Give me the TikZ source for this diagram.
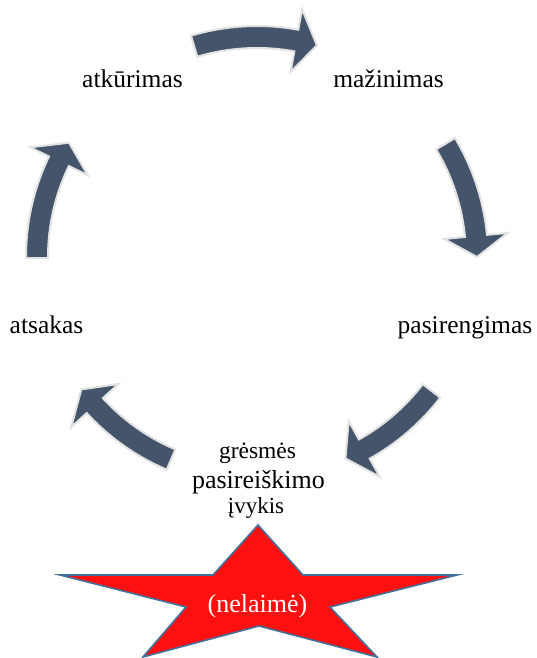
\documentclass[tikz,border=0pt]{standalone}
\usepackage{fontspec}
\setmainfont{Liberation Serif}
\definecolor{arrowfill}{HTML}{44546A}
\definecolor{arrowedge}{HTML}{E2E2E2}
\definecolor{starfill}{HTML}{FF1010}
\definecolor{staredge}{HTML}{41719C}
\newcommand{\cyclearrow}[2]{%
  \pgfmathsetmacro{\arHb}{#2+\arHl}%
  \path[cyclearrowshape] (#1:\arRo pt)
    arc[start angle=#1, end angle=\arHb, radius=\arRo pt]
    -- (\arHb:\arRh pt) -- (#2:\arRc pt) -- (\arHb:\arRl pt)
    -- (\arHb:\arRi pt)
    arc[start angle=\arHb, end angle=#1, radius=\arRi pt] -- cycle;}
\begin{document}
\begin{tikzpicture}[x=1pt,y=1pt,
  cyclearrowshape/.style={fill=arrowfill, draw=arrowedge, line width=2pt, line join=miter},
  lbl/.style={anchor=base, inner sep=0pt, font=\fontsize{25.5}{30}\selectfont},
  starshape/.style={fill=starfill, draw=staredge, line width=1.6pt, line join=miter}]
\useasboundingbox (0,0) rectangle (537,-658);
\def\arRc{220}\def\arRo{231}\def\arRi{209}\def\arRh{252}\def\arRl{188}\def\arHl{5.5}
\begin{scope}[shift={(257,-257)}]
  \cyclearrow{106.6}{74.2}
  \cyclearrow{31}{0}
  \cyclearrow{-37.5}{-66.3}
  \cyclearrow{-113}{-143}
  \cyclearrow{180.3}{148.7}
\end{scope}
% star
\path[starshape] (258,-525) -- (303,-575) -- (457,-575) -- (330,-607) -- (377,-657)
  -- (259,-626) -- (143,-657) -- (186,-607) -- (60,-575) -- (213,-575) -- cycle;
% labels
\node[lbl] (atkurimas) at (132.5,-88) {atkūrimas};
\node[lbl] (mazinimas) at (388.5,-88) {mažinimas};
\node[lbl] (atsakas) at (46.5,-333) {atsakas};
\node[lbl] (pasirengimas) at (465,-333) {pasirengimas};
\node[lbl, font=\fontsize{23.5}{28}\selectfont] (gresmes) at (257.5,-458) {grėsmės};
\node[lbl, font=\fontsize{26}{30}\selectfont] (pasireiskimo) at (258.5,-488) {pasireiškimo};
\node[lbl, font=\fontsize{23}{28}\selectfont] (ivykis) at (256,-513) {įvykis};
\node[lbl, text=white, font=\fontsize{26}{30}\selectfont] (nelaime) at (257.5,-612) {(nelaimė)};
\end{tikzpicture}
\end{document}
